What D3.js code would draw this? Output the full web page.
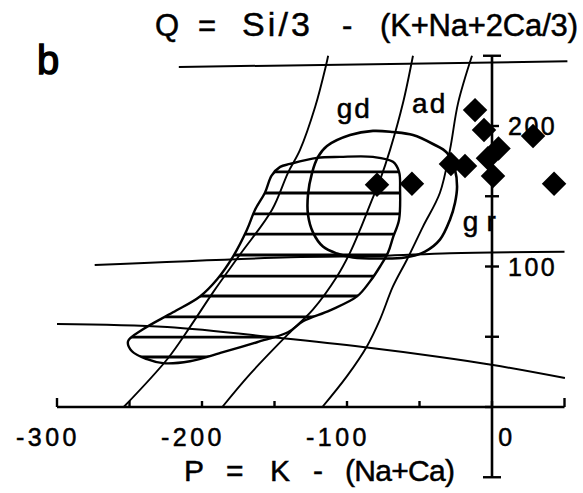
<!DOCTYPE html>
<html>
<head>
<meta charset="utf-8">
<script src="https://cdn.jsdelivr.net/npm/d3@7"></script>
<style>
  html, body { margin: 0; padding: 0; background: #fff; }
  svg { display: block; }
  text { font-family: "Liberation Sans", Arial, Helvetica, sans-serif; fill: #000; stroke: #000; stroke-width: 0.5px; }
</style>
</head>
<body>
<div id="chart"></div>
<script>
// ---------------- data ----------------
// sample points (P, Q)
const pointsP = [-11.7, -5.5, 4.5, -2.8, 28.3, -28.3, -18.6, 0.7, -79.3, -55.2, 42.8];
const pointsQ = [211.3, 197.2, 184.0, 177.0, 192.9, 173.0, 171.6, 164.5, 158.2, 158.9, 158.9];

// axis ticks
const xTicks = [-300, -250, -200, -150, -100, -50, 0, 50];
const xTickLabels = [-300, -200, -100, 0];
const yTicks = [-50, 0, 50, 100, 150, 200, 250];
const yTickLabels = [100, 200];

// field boundaries (P, Q)
const topLine = [[-216, 242], [52, 246]];
const middleLine = [[-274, 101], [-139, 106.5], [-77, 107.5], [-29, 109.5], [50, 110.5]];
const lowerLine = [[-300, 59.1], [-224, 56.9], [-146, 49.1], [-89, 42.7], [-36, 35.6], [0.7, 29.9], [50.3, 20.6]];

const curveToGd = [[-254, 0], [-224, 34], [-208, 57.4], [-192.4, 81.6], [-173.8, 108.5], [-151.7, 140.4],
                   [-140.7, 166.7], [-132.4, 183], [-122, 213.5], [-114.5, 243], [-113, 250]];
const curveGdAd = [[-186, 0], [-166.9, 23.4], [-139.3, 53.2], [-123.4, 69.5], [-106.9, 92.9], [-97.9, 109.9],
                   [-91, 126.2], [-84.1, 144], [-77.2, 161.7], [-70.3, 183], [-61.4, 216.3], [-54.5, 250]];
const curveAdGr = [[-117, 0], [-100, 22], [-86.2, 43.3], [-77.2, 62.4], [-68.3, 85.8], [-58.6, 105],
                   [-47.6, 128.4], [-35.9, 152.5], [-29, 183], [-23.4, 216.3], [-13.8, 250]];

// hatched field outline
const hatchedField = [[-139.3, 173], [-120.7, 177.3], [-104.8, 178], [-82.1, 178], [-68.3, 174.5], [-64.1, 167.4],
  [-63.4, 154.6], [-64.1, 133.3], [-68.3, 120.6], [-71.7, 109.9], [-77.2, 100], [-84.1, 89.4], [-93.1, 78.7],
  [-111.7, 68.8], [-130.3, 61], [-140.7, 53.2], [-162.1, 46.1], [-185.5, 39], [-208.3, 32.6], [-226.9, 31.2],
  [-237.9, 34], [-248.3, 39.7], [-251, 46.8], [-240.7, 55.3], [-220, 67.4], [-201.4, 78.7], [-189.7, 90.8],
  [-178.6, 107.1], [-169, 126.2], [-163.4, 140.4], [-156.6, 152.5], [-152, 164.7], [-146.1, 170.9]];
const hatchQ = [167.3, 152.3, 137.4, 123.1, 108.2, 93.2, 79, 64.1, 49.8, 35.6];

// open field outline
const openField = [[-82.1, 196.5], [-68.3, 195.7], [-54.5, 193.6], [-40.7, 187.2], [-31, 180.9], [-25.5, 168.8],
  [-24.1, 156.7], [-25.5, 145.4], [-29, 133.3], [-35.9, 119.1], [-46.2, 110.6], [-60, 106.4], [-77.2, 105.7],
  [-95.9, 106.4], [-106.9, 109.2], [-116.6, 114.2], [-123.4, 124.1], [-126.9, 136.9], [-126.9, 151.1],
  [-124.1, 166.7], [-120, 178], [-113.8, 185.8], [-97.9, 193.6]];

// field names (P, Q of label anchor)
const fieldNames = ["gd", "ad", "gr"];
const fieldNameP = [-95, -43, -6];
const fieldNameQ = [206, 209, 125];

// ---------------- drawing ----------------
const W = 583, H = 493;
const svg = d3.select("#chart").append("svg").attr("width", W).attr("height", H);

const x = d3.scaleLinear().domain([-300, 50]).range([57, 564.5]);
const y = d3.scaleLinear().domain([0, 250]).range([407, 55.75]);

const smooth = d3.line().x(d => x(d[0])).y(d => y(d[1])).curve(d3.curveCatmullRom.alpha(0.5));
const closed = d3.line().x(d => x(d[0])).y(d => y(d[1])).curve(d3.curveCatmullRomClosed.alpha(0.5));

// straight-ish boundaries
[topLine, middleLine, lowerLine].forEach(l => {
  svg.append("path").attr("d", smooth(l)).attr("fill", "none").attr("stroke", "#000").attr("stroke-width", 2);
});
[curveToGd, curveGdAd, curveAdGr].forEach(l => {
  svg.append("path").attr("d", smooth(l)).attr("fill", "none").attr("stroke", "#000").attr("stroke-width", 1.9);
});

// hatched field
svg.append("clipPath").attr("id", "hclip").append("path").attr("d", closed(hatchedField));
svg.append("g").attr("clip-path", "url(#hclip)")
  .selectAll("line").data(hatchQ).join("line")
  .attr("x1", x(-300)).attr("x2", x(50))
  .attr("y1", d => y(d)).attr("y2", d => y(d))
  .attr("stroke", "#000").attr("stroke-width", 2.8);
svg.append("path").attr("d", closed(hatchedField)).attr("fill", "none").attr("stroke", "#000").attr("stroke-width", 2.4);

// open field
svg.append("path").attr("d", closed(openField)).attr("fill", "none").attr("stroke", "#000").attr("stroke-width", 2.6);

// x axis
const gx = svg.append("g");
gx.append("line").attr("x1", x(-300)).attr("x2", x(50)).attr("y1", y(0)).attr("y2", y(0))
  .attr("stroke", "#000").attr("stroke-width", 2.6);
gx.selectAll("line.tick").data(xTicks).join("line").attr("class", "tick")
  .attr("x1", d => x(d)).attr("x2", d => x(d))
  .attr("y1", y(0)).attr("y2", d => (d === -300 || d === 50) ? y(0) - 9 : y(0) - 6)
  .attr("stroke", "#000").attr("stroke-width", 2.4);
gx.selectAll("text").data(xTickLabels).join("text")
  .attr("x", d => d === 0 ? x(d) + 15 : x(d) + 23)
  .attr("y", 446)
  .attr("text-anchor", d => d === 0 ? "middle" : "end")
  .attr("font-size", 25).attr("letter-spacing", 3.5)
  .text(d => d);

// y axis
const gy = svg.append("g");
gy.append("line").attr("x1", x(0)).attr("x2", x(0)).attr("y1", y(-50)).attr("y2", y(250))
  .attr("stroke", "#000").attr("stroke-width", 2.6);
gy.selectAll("line.tick").data(yTicks).join("line").attr("class", "tick")
  .attr("x1", d => (d === -50 || d === 250) ? x(0) - 9 : x(0) - 7)
  .attr("x2", d => (d === -50 || d === 250) ? x(0) + 9 : (d === 0 ? x(0) : x(0) + 7))
  .attr("y1", d => y(d)).attr("y2", d => y(d))
  .attr("stroke", "#000").attr("stroke-width", 2.4);
gy.selectAll("text").data(yTickLabels).join("text")
  .attr("x", x(0) + 16)
  .attr("y", d => y(d) + 9)
  .attr("font-size", 25).attr("letter-spacing", 2.5)
  .text(d => d);

// data points (diamonds)
const diamond = d3.symbol().type(d3.symbolSquare).size(300);
svg.append("g").selectAll("path").data(pointsP.map((p, i) => [p, pointsQ[i]])).join("path")
  .attr("d", diamond)
  .attr("transform", d => `translate(${x(d[0])},${y(d[1])}) rotate(45)`)
  .attr("fill", "#000");

// field names
svg.append("g").selectAll("text").data(fieldNames).join("text")
  .attr("x", (d, i) => x(fieldNameP[i]))
  .attr("y", (d, i) => y(fieldNameQ[i]))
  .attr("text-anchor", "middle")
  .attr("font-size", 28)
  .attr("letter-spacing", (d, i) => i === 2 ? 8 : 2)
  .text(d => d);

// panel letter
svg.append("text").attr("x", 37).attr("y", 74).attr("font-size", 40)
  .style("stroke-width", "1.4px").text("b");

// title (Q axis name)
const titleParts = [["Q", 155, 24, 31], ["=", 198, 17, 31], ["Si/3", 242, 68, 34], ["-", 342, 10, 31], ["(K+Na+2Ca/3)", 380, 198, 31]];
svg.append("g").selectAll("text").data(titleParts).join("text")
  .attr("x", d => d[1]).attr("y", 36)
  .attr("font-size", d => d[3])
  .attr("textLength", d => d[2]).attr("lengthAdjust", "spacing")
  .text(d => d[0]);

// x axis name
const xNameParts = [["P", 184, 19], ["=", 226, 19], ["K", 270, 20], ["-", 313, 9], ["(Na+Ca)", 345, 110]];
svg.append("g").selectAll("text").data(xNameParts).join("text")
  .attr("x", d => d[1]).attr("y", 481)
  .attr("font-size", 30)
  .attr("textLength", d => d[2]).attr("lengthAdjust", "spacing")
  .text(d => d[0]);
</script>
</body>
</html>
